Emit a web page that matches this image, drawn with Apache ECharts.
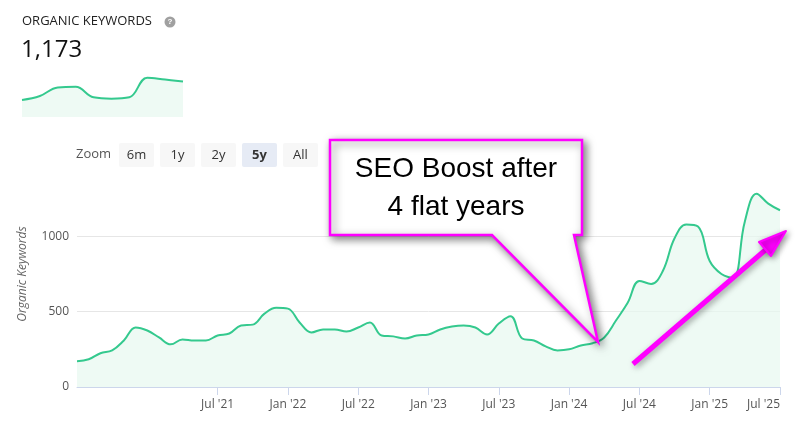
<!DOCTYPE html>
<html>
<head>
<meta charset="utf-8">
<script src="https://cdn.jsdelivr.net/npm/echarts@6/dist/echarts.min.js"></script>
<style>
  html, body { margin: 0; padding: 0; background: #fff; }
  #chart { width: 800px; height: 438px; }
</style>
</head>
<body>
<div id="chart"></div>
<script>
// monthly points, Jul 2020 .. Jul 2025
const months = [];
const monthNames = ['Jan', 'Feb', 'Mar', 'Apr', 'May', 'Jun', 'Jul', 'Aug', 'Sep', 'Oct', 'Nov', 'Dec'];
for (let y = 2020, m = 6; y < 2025 || (y === 2025 && m <= 6); m++) {
    if (m === 12) { m = 0; y++; }
    months.push(monthNames[m] + " '" + String(y).slice(2));
}

const keywords = [
    171, 184, 224, 243, 309, 395, 375, 329, 283, 316, 309, 309,
    342, 355, 408, 414, 487, 526, 520, 428, 362, 382, 382, 368,
    395, 428, 342, 336, 322, 342, 349, 382, 401, 408, 395, 349,
    421, 470, 322, 309, 270, 243, 250, 276, 290, 329, 441, 559,
    704, 684, 770, 987, 1079, 1066, 836, 750, 724, 1099, 1283, 1217,
    1173
];

// small overview sparkline
const sparkValues = [130, 160, 225, 230, 150, 140, 150, 300, 285, 270];

const zoomButtons = ['6m', '1y', '2y', '5y', 'All'];

const chart = echarts.init(document.getElementById('chart'));

const green = '#34c98e';
const fill = '#e7f8f0';
const pink = '#ff00ff';

// zoom button row
const buttonGraphics = [{
    type: 'text', left: 76, top: 148,
    style: { text: 'Zoom', font: '13px "Open Sans", sans-serif', fill: '#555' }
}];
let bx = 119;
zoomButtons.forEach(label => {
    const w = 35;
    buttonGraphics.push({
        type: 'rect', shape: { x: bx, y: 143, width: w, height: 24, r: 2 },
        style: { fill: label === '5y' ? '#e6ebf5' : '#f7f7f7' }
    });
    buttonGraphics.push({
        type: 'text', x: bx + w / 2, y: 155,
        style: {
            text: label, align: 'center', verticalAlign: 'middle',
            font: (label === '5y' ? 'bold ' : '') + '13px "Open Sans", sans-serif', fill: '#333'
        }
    });
    bx += 41;
});

const option = {
    animation: false,
    grid: [
        { left: 77, right: 20, top: 161, bottom: 51 },
        { left: 22, top: 75, width: 161, height: 42 }
    ],
    xAxis: [
        {
            type: 'category',
            data: months,
            boundaryGap: false,
            axisLine: { lineStyle: { color: '#ccd6eb' } },
            axisTick: {
                interval: (i, v) => i > 0 && (v.startsWith('Jan') || v.startsWith('Jul')),
                length: 8,
                lineStyle: { color: '#ccd6eb' }
            },
            axisLabel: {
                interval: (i, v) => i > 0 && (v.startsWith('Jan') || v.startsWith('Jul')),
                showMinLabel: false,
                color: '#555',
                fontSize: 12,
                fontFamily: 'Open Sans',
                margin: 12,
                alignMaxLabel: 'right'
            }
        },
        {
            type: 'category', gridIndex: 1, boundaryGap: false,
            data: sparkValues.map((v, i) => i), show: false
        }
    ],
    yAxis: [
        {
            type: 'value',
            min: 0,
            max: 1500,
            interval: 500,
            name: 'Organic Keywords',
            nameLocation: 'middle',
            nameGap: 48,
            nameTextStyle: { color: '#666', fontStyle: 'italic', fontSize: 12, fontFamily: 'Open Sans' },
            axisLabel: {
                color: '#555', fontSize: 12, fontFamily: 'Open Sans',
                formatter: v => (v > 1000 ? '' : String(v))
            },
            splitLine: { lineStyle: { color: ['#e6e6e6', '#e6e6e6', '#e6e6e6', 'rgba(0,0,0,0)'] } }
        },
        { type: 'value', gridIndex: 1, min: 0, max: 320, show: false }
    ],
    series: [
        {
            type: 'line',
            data: keywords,
            smooth: 0.4,
            symbol: 'none',
            lineStyle: { color: green, width: 2 },
            areaStyle: { color: fill }
        },
        {
            type: 'line', xAxisIndex: 1, yAxisIndex: 1,
            data: sparkValues, smooth: 0.4, symbol: 'none',
            lineStyle: { color: green, width: 2 },
            areaStyle: { color: fill }
        }
    ],
    graphic: [
        {
            type: 'text', left: 22, top: 15,
            style: { text: 'ORGANIC KEYWORDS', font: '13px "Open Sans", sans-serif', fill: '#222' }
        },
        { type: 'circle', shape: { cx: 170, cy: 22, r: 5.5 }, style: { fill: '#a0a0a0' } },
        {
            type: 'text', x: 170, y: 22,
            style: { text: '?', align: 'center', verticalAlign: 'middle', font: 'bold 8px sans-serif', fill: '#fff' }
        },
        {
            type: 'text', left: 21, top: 38,
            style: { text: '1,173', font: '24px "Open Sans", sans-serif', fill: '#111' }
        },
        ...buttonGraphics,
        // callout
        {
            type: 'polygon',
            shape: { points: [[330, 140], [582, 140], [582, 235], [574, 235], [598, 342], [492, 235], [330, 235]] },
            style: { fill: '#fff', stroke: pink, lineWidth: 2.5, shadowBlur: 8, shadowColor: 'rgba(0,0,0,0.5)', shadowOffsetX: 3, shadowOffsetY: 3 },
            z: 100
        },
        {
            type: 'text', x: 456, y: 188, z: 101,
            style: {
                text: 'SEO Boost after\n4 flat years', align: 'center', verticalAlign: 'middle',
                font: '28px "Liberation Sans", Arial, sans-serif', lineHeight: 38, fill: '#000'
            }
        },
        // arrow
        {
            type: 'line', z: 100,
            shape: { x1: 633, y1: 364, x2: 770, y2: 246 },
            style: { stroke: pink, lineWidth: 5, shadowBlur: 6, shadowColor: 'rgba(0,0,0,0.4)', shadowOffsetX: 2, shadowOffsetY: 2 }
        },
        {
            type: 'polygon', z: 100,
            shape: { points: [[786, 231], [759, 242], [771, 256]] },
            style: { fill: pink, stroke: pink, lineWidth: 2, lineJoin: 'round', shadowBlur: 6, shadowColor: 'rgba(0,0,0,0.4)', shadowOffsetX: 2, shadowOffsetY: 2 }
        }
    ]
};

chart.setOption(option);
</script>
</body>
</html>
